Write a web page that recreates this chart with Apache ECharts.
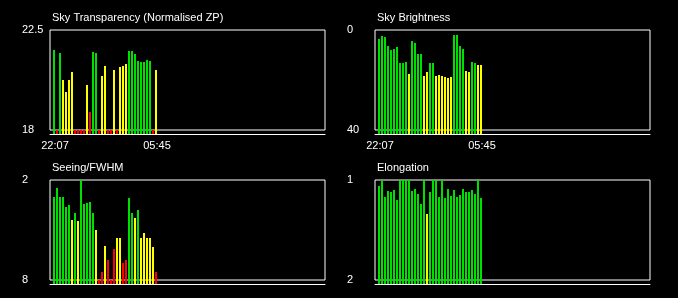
<!DOCTYPE html>
<html><head><meta charset="utf-8">
<script src="https://cdn.jsdelivr.net/npm/echarts@6/dist/echarts.min.js"></script>
<style>html,body{margin:0;padding:0;background:#000}#c{width:678px;height:298px}</style>
</head><body><div id="c"></div>
<script>
// ---- data ----
const timeTickLabels = ['22:07', '05:45'];
const timeTickIndex = [0, 34];

const transparency = [21.6, 18, 21.47, 20.25, 19.71, 20.25, 20.61, 18, 18, 18, 18, 20.03, 18.81, 21.51, 21.47, 18, 20.43, 20.88, 18, 18, 20.7, 18, 20.84, 20.88, 20.97, 21.56, 21.56, 21.42, 21.1, 21.06, 21.06, 21.15, 21.1, 18, 20.7];
const transparencyQ = 'grgyyyyrrrryrggryyrryryyyggggggggry'.split('');

const brightness = [3.6, 2.4, 2.8, 6.4, 8.0, 7.6, 6.8, 13.2, 13.2, 12.8, 17.6, 4.4, 5.2, 9.6, 9.6, 18.4, 16.8, 13.2, 13.2, 18.4, 18.0, 18.4, 18.8, 19.2, 18.8, 2.0, 2.0, 6.4, 7.6, 16.4, 16.8, 12.8, 13.2, 14.0, 14.0];
const brightnessQ = 'ggggggggggyggggyyggyyyyyyggggyyggyy'.split('');

const seeing = [3.02, 2.48, 3.02, 3.02, 3.62, 3.5, 4.4, 3.98, 4.46, 2.0, 3.44, 3.38, 3.32, 3.98, 5.0, 8.0, 7.52, 5.96, 6.8, 8.0, 6.14, 5.48, 5.48, 6.98, 6.8, 3.08, 3.98, 4.28, 3.8, 5.48, 5.18, 5.48, 5.48, 6.02, 7.52];
const seeingQ = 'ggggggygygggggyrryrrryyrrggygyyyyyr'.split('');

const elongation = [1.06, 1.0, 1.17, 1.11, 1.12, 1.10, 1.20, 1.0, 1.0, 1.0, 1.0, 1.11, 1.09, 1.14, 1.24, 1.0, 1.34, 1.12, 1.0, 1.0, 1.17, 1.0, 1.18, 1.09, 1.16, 1.10, 1.17, 1.15, 1.09, 1.12, 1.12, 1.10, 1.14, 1.0, 1.18];
const elongationQ = 'ggggggggggggggggyggggggggggggggggggg'.slice(0, 35).split('');

const panelTitles = ['Sky Transparency (Normalised ZP)', 'Sky Brightness', 'Seeing/FWHM', 'Elongation'];
const axisTickValues = [[18, 22.5], [0, 40], [2, 8], [1, 2]];

// ---- styling / layout ----
const qColor = { g: '#00e000', y: '#ffff00', r: '#ff0000' };
const FONT = 'Liberation Sans, Arial, sans-serif';
const lefts = [50, 375, 50, 375];
const tops = [30, 30, 180, 180];
const W = 275;
const xMin = -4 / 3, xMax = -4 / 3 + W / 3;
// y ranges (data grid extends 4px below the frame)
const yCfg = [
  { min: 17.82, max: 22.5, inverse: false, base: 17.82 },
  { min: 0, max: 41.6, inverse: true, base: 41.6 },
  { min: 2, max: 8.24, inverse: true, base: 8.24 },
  { min: 1, max: 2.04, inverse: true, base: 2.04 }
];
const values = [transparency, brightness, seeing, elongation];
const quals = [transparencyQ, brightnessQ, seeingQ, elongationQ];

const grid = [], xAxis = [], yAxis = [], series = [], title = [];
for (let p = 0; p < 4; p++) {
  grid.push({ left: lefts[p], top: tops[p], width: W, height: 104, show: false });
  xAxis.push({
    type: 'value', gridIndex: p, min: xMin, max: xMax,
    splitLine: { show: false }, axisTick: { show: false },
    axisLine: { show: true, onZero: false, lineStyle: { color: '#fff', width: 1 } },
    axisLabel: p < 2 ? {
      show: true, customValues: timeTickIndex, color: '#fff', fontSize: 11, fontFamily: FONT, margin: 6,
      padding: [0, 0, 0, 2],
      formatter: v => timeTickLabels[timeTickIndex.indexOf(Math.round(v))] || ''
    } : { show: false }
  });
  yAxis.push({
    type: 'value', gridIndex: p, min: yCfg[p].min, max: yCfg[p].max, inverse: yCfg[p].inverse,
    splitLine: { show: false }, axisTick: { show: false }, axisLine: { show: false },
    axisLabel: { show: true, customValues: axisTickValues[p], color: '#fff', fontSize: 11, fontFamily: FONT, align: 'left', margin: 28 }
  });
  const base = yCfg[p].base;
  series.push({
    type: 'custom', xAxisIndex: p, yAxisIndex: p, z: 5,
    renderItem: (params, api) => {
      const x = api.value(0), v = api.value(1);
      const t = api.coord([x, v]);
      const b = api.coord([x, base]);
      return { type: 'rect', shape: { x: t[0] - 1, y: Math.min(t[1], b[1]), width: 2, height: Math.abs(b[1] - t[1]) },
               style: { fill: api.visual('color') } };
    },
    data: values[p].map((v, i) => ({ value: [i, v], itemStyle: { color: qColor[quals[p][i]] } }))
  });
  title.push({ text: panelTitles[p], left: lefts[p] + 2, top: tops[p] - 18, padding: 0,
    textStyle: { color: '#fff', fontSize: 11, fontWeight: 'normal', fontFamily: FONT } });
}
// frame grids
for (let p = 0; p < 4; p++) {
  grid.push({ left: lefts[p], top: tops[p], width: W, height: 100, show: true, borderColor: '#fff', borderWidth: 1, backgroundColor: 'transparent', z: 0 });
  xAxis.push({ type: 'value', gridIndex: 4 + p, show: false });
  yAxis.push({ type: 'value', gridIndex: 4 + p, show: false });
}

const chart = echarts.init(document.getElementById('c'), null, { renderer: 'canvas' });
chart.setOption({ backgroundColor: '#000', animation: false, title, grid, xAxis, yAxis, series });
</script>
</body></html>
